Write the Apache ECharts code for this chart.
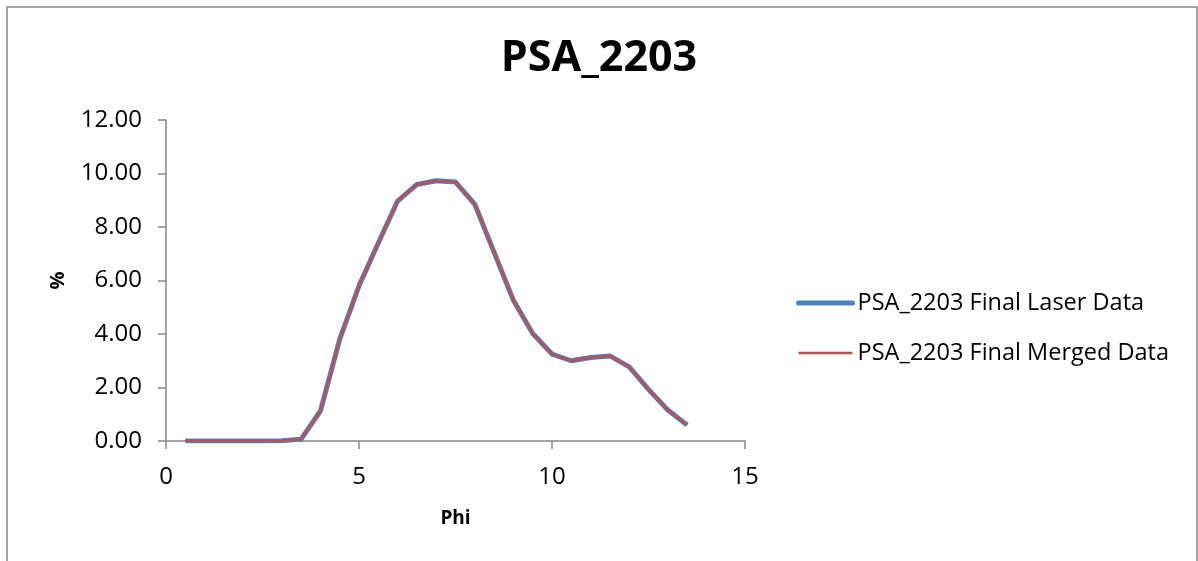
<!DOCTYPE html>
<html>
<head>
<meta charset="utf-8">
<title>PSA_2203</title>
<script src="https://cdn.jsdelivr.net/npm/echarts@6/dist/echarts.min.js"></script>
<style>
  html, body { margin: 0; padding: 0; background: #fff; }
  #chart { width: 1198px; height: 561px; }
</style>
</head>
<body>
<div id="chart"></div>
<script>
// Grain-size distribution for sample PSA_2203 (percent per half-phi class)
const phi = [0.5, 1, 1.5, 2, 2.5, 3, 3.5, 4, 4.5, 5, 5.5, 6, 6.5, 7, 7.5, 8, 8.5, 9, 9.5, 10, 10.5, 11, 11.5, 12, 12.5, 13, 13.5];
const laserPct = [0, 0, 0, 0, 0, 0.01, 0.07, 1.12, 3.8, 5.8, 7.4, 8.97, 9.59, 9.73, 9.68, 8.85, 7.05, 5.26, 4.02, 3.25, 3.0, 3.12, 3.18, 2.77, 1.93, 1.16, 0.6];
const mergedPct = [0, 0, 0, 0, 0, 0.01, 0.07, 1.12, 3.8, 5.8, 7.4, 8.97, 9.59, 9.73, 9.68, 8.85, 7.05, 5.26, 4.02, 3.25, 3.0, 3.12, 3.18, 2.77, 1.93, 1.16, 0.6];
const xTicks = [0, 5, 10, 15];
const yTicks = [0, 2, 4, 6, 8, 10, 12];
const seriesNames = ['PSA_2203 Final Laser Data', 'PSA_2203 Final Merged Data'];

const FONT = '"Open Sans", Lato, sans-serif';
const AXIS_GREY = '#868686';
const BLUE = '#4F81BD';
const RED = '#C0504D';

const chart = echarts.init(document.getElementById('chart'));

chart.setOption({
  animation: false,
  backgroundColor: '#ffffff',
  title: {
    text: 'PSA_2203',
    left: 'center',
    top: 32,
    textStyle: { fontFamily: FONT, fontWeight: 'bold', fontSize: 43, color: '#000' }
  },
  graphic: [{
    type: 'rect',
    silent: true,
    shape: { x: 7, y: 7, width: 1190, height: 600 },
    style: { fill: 'none', stroke: AXIS_GREY, lineWidth: 1.5 }
  }],
  legend: {
    orient: 'vertical',
    left: 791,
    top: 286,
    itemWidth: 54,
    itemHeight: 14,
    itemGap: 26,
    textStyle: { fontFamily: FONT, fontSize: 23.5, color: '#000', lineHeight: 20 },
    data: [
      { name: seriesNames[0], lineStyle: { width: 5, cap: 'round', color: BLUE }, itemStyle: { color: 'transparent', borderWidth: 0 } },
      { name: seriesNames[1], lineStyle: { width: 2.5, color: RED }, itemStyle: { color: 'transparent', borderWidth: 0 } }
    ]
  },
  grid: { left: 166, top: 120, width: 579, height: 321 },
  xAxis: {
    type: 'value',
    min: xTicks[0],
    max: xTicks[xTicks.length - 1],
    interval: xTicks[1] - xTicks[0],
    name: 'Phi',
    nameLocation: 'middle',
    nameGap: 68,
    nameTextStyle: { fontFamily: FONT, fontWeight: 'bold', fontSize: 19, color: '#000' },
    axisLine: { show: true, onZero: false, lineStyle: { color: AXIS_GREY, width: 1.5 } },
    axisTick: { show: true, inside: false, length: 8, lineStyle: { color: AXIS_GREY, width: 1.5 } },
    axisLabel: { margin: 24, fontFamily: FONT, fontSize: 24, color: '#000' },
    splitLine: { show: false }
  },
  yAxis: {
    type: 'value',
    min: yTicks[0],
    max: yTicks[yTicks.length - 1],
    interval: yTicks[1] - yTicks[0],
    name: '%',
    nameLocation: 'middle',
    nameRotate: 90,
    nameGap: 98,
    nameTextStyle: { fontFamily: FONT, fontWeight: 'bold', fontSize: 20, color: '#000' },
    axisLine: { show: true, lineStyle: { color: AXIS_GREY, width: 1.5 } },
    axisTick: { show: true, inside: false, length: 8, lineStyle: { color: AXIS_GREY, width: 1.5 } },
    axisLabel: { margin: 24, fontFamily: FONT, fontSize: 24, color: '#000', formatter: v => v.toFixed(2) },
    splitLine: { show: false }
  },
  series: [
    {
      name: seriesNames[0],
      type: 'line',
      data: phi.map((x, i) => [x, laserPct[i]]),
      symbol: 'none',
      lineStyle: { color: BLUE, width: 5, join: 'round' },
      itemStyle: { color: BLUE },
      z: 2
    },
    {
      name: seriesNames[1],
      type: 'line',
      data: phi.map((x, i) => [x, mergedPct[i]]),
      symbol: 'none',
      lineStyle: { color: RED, width: 2.5, join: 'round' },
      itemStyle: { color: RED },
      z: 3
    }
  ]
});
</script>
</body>
</html>
